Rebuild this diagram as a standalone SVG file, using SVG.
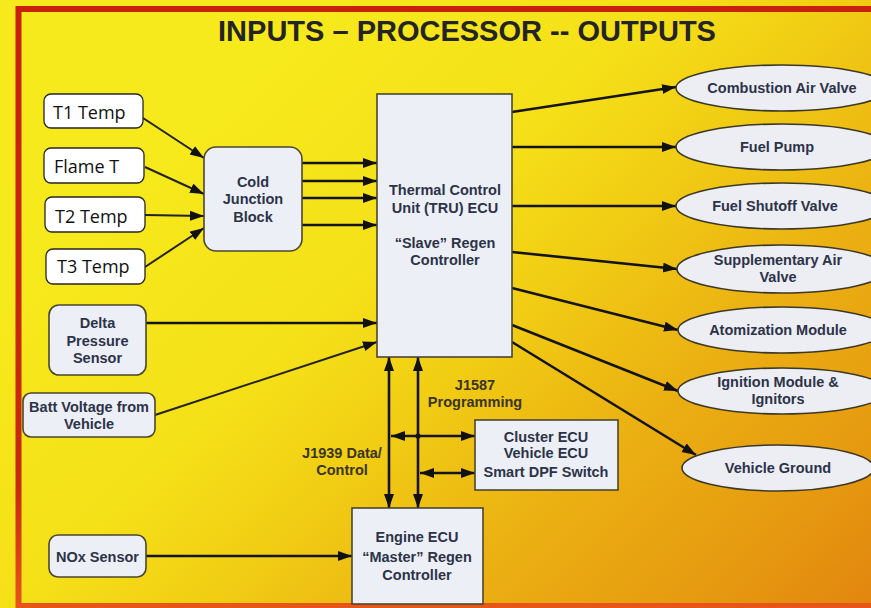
<svg xmlns="http://www.w3.org/2000/svg" width="871" height="608" viewBox="0 0 871 608">
  <defs>
    <linearGradient id="bg" gradientUnits="userSpaceOnUse" x1="300" y1="0" x2="871" y2="608">
      <stop offset="0" stop-color="#f6ea1c"/>
      <stop offset="0.3" stop-color="#f5e018"/>
      <stop offset="0.45" stop-color="#f1cd14"/>
      <stop offset="0.65" stop-color="#ebb012"/>
      <stop offset="0.85" stop-color="#e69a10"/>
      <stop offset="1" stop-color="#e2850f"/>
    </linearGradient>
    <linearGradient id="frame" gradientUnits="userSpaceOnUse" x1="0" y1="0" x2="0" y2="608">
      <stop offset="0" stop-color="#c8200c"/>
      <stop offset="0.8" stop-color="#c82a0c"/>
      <stop offset="1" stop-color="#e8561a"/>
    </linearGradient>
    <marker id="ah" markerUnits="userSpaceOnUse" markerWidth="15" markerHeight="11" refX="14" refY="5" orient="auto-start-reverse">
      <path d="M0,0 L14,5 L0,10 z" fill="#111"/>
    </marker>
    <style>
      .line { stroke: #141414; stroke-width: 2.6; fill: none; marker-end: url(#ah); }
      .thin { stroke: #222; stroke-width: 2; fill: none; marker-end: url(#ah); }
      .both { stroke: #141414; stroke-width: 2.6; fill: none; marker-start: url(#ah); marker-end: url(#ah); }
      .inbox { fill: #ffffff; stroke: #262626; stroke-width: 1.3; }
      .pale { fill: #eceff5; stroke: #4a4632; stroke-width: 1.6; }
      .oval { fill: #eceef4; stroke: #3c3828; stroke-width: 1.6; }
      .cal { font-family: "Open Sans", "Noto Sans", sans-serif; font-size: 18px; fill: #111; }
      .lbl { font-family: "Liberation Sans", Arial, sans-serif; font-weight: bold; font-size: 14.5px; fill: #2c3349; text-anchor: middle; }
      .note { font-family: "Liberation Sans", Arial, sans-serif; font-weight: bold; font-size: 14.5px; fill: #3a3420; text-anchor: middle; }
      .title { font-family: "Liberation Sans", Arial, sans-serif; font-weight: bold; font-size: 29px; fill: #242424; text-anchor: middle; }
    </style>
  </defs>

  <!-- background and frame -->
  <rect x="0" y="0" width="871" height="608" fill="url(#bg)"/>
  <rect x="18.5" y="9" width="900" height="597" fill="none" stroke="url(#frame)" stroke-width="6"/>

  <text class="title" x="467" y="41">INPUTS – PROCESSOR -- OUTPUTS</text>

  <!-- connectors -->
  <g id="connectors">
    <!-- thermocouples into cold junction block -->
    <line class="thin" x1="143" y1="118" x2="204" y2="158"/>
    <line class="thin" x1="145" y1="167" x2="204" y2="194"/>
    <line class="thin" x1="145" y1="215" x2="204" y2="216"/>
    <line class="thin" x1="145" y1="267" x2="204" y2="228"/>
    <!-- cold junction block into TRU -->
    <line class="line" x1="302" y1="163" x2="377" y2="163"/>
    <line class="line" x1="302" y1="181" x2="377" y2="181"/>
    <line class="line" x1="302" y1="198" x2="377" y2="198"/>
    <line class="line" x1="302" y1="225" x2="377" y2="225"/>
    <!-- sensors into TRU -->
    <line class="line" x1="146" y1="323" x2="377" y2="323"/>
    <line class="thin" x1="155" y1="415" x2="377" y2="342"/>
    <!-- TRU outputs -->
    <line class="line" x1="512" y1="112" x2="676" y2="87"/>
    <line class="line" x1="510" y1="147" x2="676" y2="147"/>
    <line class="line" x1="512" y1="206" x2="676" y2="206"/>
    <line class="line" x1="512" y1="252" x2="677" y2="269"/>
    <line class="line" x1="512" y1="288" x2="678" y2="330"/>
    <line class="line" x1="512" y1="325" x2="678" y2="391"/>
    <line class="line" x1="512" y1="342" x2="696" y2="455"/>
    <!-- data links TRU / engine ECU -->
    <line class="both" x1="389" y1="357" x2="389" y2="508"/>
    <line class="both" x1="418" y1="357" x2="418" y2="508"/>
    <line class="both" x1="391" y1="436" x2="475" y2="436"/>
    <circle cx="418" cy="436" r="2.6" fill="#141414"/>
    <line class="both" x1="420" y1="473" x2="475" y2="473"/>
    <!-- NOx sensor into engine ECU -->
    <line class="line" x1="146" y1="556" x2="352" y2="556"/>
  </g>

  <!-- inputs -->
  <g id="t1-temp">
    <rect class="inbox" x="44" y="94" width="99" height="34" rx="7"/>
    <text class="cal" x="53" y="119">T1 Temp</text>
  </g>
  <g id="flame-t">
    <rect class="inbox" x="44" y="148" width="100" height="35" rx="7"/>
    <text class="cal" x="54" y="173">Flame T</text>
  </g>
  <g id="t2-temp">
    <rect class="inbox" x="45" y="197" width="100" height="35" rx="7"/>
    <text class="cal" x="55" y="223">T2 Temp</text>
  </g>
  <g id="t3-temp">
    <rect class="inbox" x="46" y="249" width="99" height="35" rx="7"/>
    <text class="cal" x="57" y="273">T3 Temp</text>
  </g>
  <g id="delta-pressure">
    <rect class="pale" x="49" y="305" width="97" height="70" rx="10"/>
    <text class="lbl" x="97.5" y="328">Delta</text>
    <text class="lbl" x="97.5" y="346">Pressure</text>
    <text class="lbl" x="97.5" y="363">Sensor</text>
  </g>
  <g id="batt-voltage">
    <rect class="pale" x="23" y="393" width="132" height="44" rx="8"/>
    <text class="lbl" x="89" y="412">Batt Voltage from</text>
    <text class="lbl" x="89" y="429">Vehicle</text>
  </g>
  <g id="nox-sensor">
    <rect class="pale" x="49" y="535" width="97" height="42" rx="9"/>
    <text class="lbl" x="97.5" y="562">NOx Sensor</text>
  </g>

  <!-- processing -->
  <g id="cold-junction">
    <rect class="pale" x="204" y="147" width="98" height="104" rx="12"/>
    <text class="lbl" x="253" y="187">Cold</text>
    <text class="lbl" x="253" y="204">Junction</text>
    <text class="lbl" x="253" y="222">Block</text>
  </g>
  <g id="tru-ecu">
    <rect class="pale" x="377" y="94" width="135" height="263"/>
    <text class="lbl" x="445" y="195">Thermal Control</text>
    <text class="lbl" x="445" y="213">Unit (TRU) ECU</text>
    <text class="lbl" x="445" y="248">“Slave” Regen</text>
    <text class="lbl" x="445" y="265">Controller</text>
  </g>
  <g id="cluster-ecu">
    <rect class="pale" x="475" y="420" width="143" height="70"/>
    <text class="lbl" x="546" y="442">Cluster ECU</text>
    <text class="lbl" x="546" y="458">Vehicle ECU</text>
    <text class="lbl" x="546" y="477">Smart DPF Switch</text>
  </g>
  <g id="engine-ecu">
    <rect class="pale" x="352" y="508" width="131" height="96"/>
    <text class="lbl" x="417" y="542">Engine ECU</text>
    <text class="lbl" x="417" y="562">“Master” Regen</text>
    <text class="lbl" x="417" y="580">Controller</text>
  </g>

  <!-- bus labels -->
  <g id="bus-labels">
    <text class="note" x="475" y="390">J1587</text>
    <text class="note" x="475" y="407">Programming</text>
    <text class="note" x="342" y="458">J1939 Data/</text>
    <text class="note" x="342" y="475">Control</text>
  </g>

  <!-- outputs -->
  <g id="combustion-air-valve">
    <ellipse class="oval" cx="782" cy="88" rx="106" ry="23"/>
    <text class="lbl" x="782" y="93">Combustion Air Valve</text>
  </g>
  <g id="fuel-pump">
    <ellipse class="oval" cx="782" cy="147" rx="106" ry="23"/>
    <text class="lbl" x="777" y="152">Fuel Pump</text>
  </g>
  <g id="fuel-shutoff-valve">
    <ellipse class="oval" cx="782" cy="206" rx="106" ry="23"/>
    <text class="lbl" x="775" y="211">Fuel Shutoff Valve</text>
  </g>
  <g id="supplementary-air-valve">
    <ellipse class="oval" cx="782" cy="269" rx="105" ry="24"/>
    <text class="lbl" x="778" y="265">Supplementary Air</text>
    <text class="lbl" x="778" y="282">Valve</text>
  </g>
  <g id="atomization-module">
    <ellipse class="oval" cx="782" cy="330" rx="104" ry="23"/>
    <text class="lbl" x="778" y="335">Atomization Module</text>
  </g>
  <g id="ignition-module">
    <ellipse class="oval" cx="782" cy="391" rx="104" ry="23"/>
    <text class="lbl" x="778" y="387">Ignition Module &amp;</text>
    <text class="lbl" x="778" y="404">Ignitors</text>
  </g>
  <g id="vehicle-ground">
    <ellipse class="oval" cx="778" cy="468" rx="96" ry="23"/>
    <text class="lbl" x="778" y="473">Vehicle Ground</text>
  </g>
</svg>
